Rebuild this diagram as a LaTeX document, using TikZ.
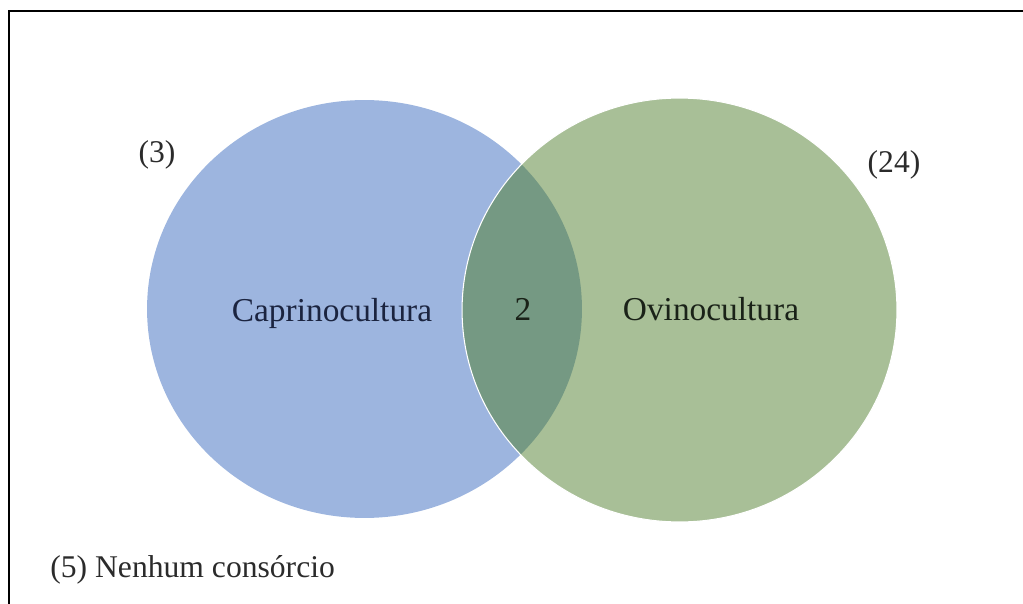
\documentclass[tikz,border=0pt]{standalone}
\usepackage{fontspec}
\setmainfont{Liberation Serif}
\usepackage{tikz}
\definecolor{caprblue}{HTML}{9DB5DF}
\definecolor{ovigreen}{HTML}{A8BF97}
\definecolor{lensgreen}{HTML}{759983}
\definecolor{caprtext}{HTML}{1B2440}
\definecolor{ovitext}{HTML}{1A2218}
\definecolor{counttext}{HTML}{2B2B2B}
\tikzset{
  vennlabel/.style={inner sep=0pt, anchor=base, font=\fontsize{19}{23}\selectfont},
  countlabel/.style={inner sep=0pt, anchor=base, text=counttext, font=\fontsize{18}{22}\selectfont}
}
\begin{document}
\begin{tikzpicture}[x=0.02cm,y=-0.02cm]
    \useasboundingbox (0,0) rectangle (1023,604);
    \coordinate (caprc) at (364.5,309);
    \coordinate (ovic) at (679.5,310);

    \draw[line width=1.6pt,black] (9,604) -- (9,11) -- (1023,11);

    \fill[caprblue] (caprc) ellipse [x radius=4.35cm, y radius=4.18cm];
    \fill[ovigreen] (ovic) ellipse [x radius=4.35cm, y radius=4.24cm];
    \begin{scope}
      \clip (caprc) ellipse [x radius=4.35cm, y radius=4.18cm];
      \fill[lensgreen] (ovic) ellipse [x radius=4.35cm, y radius=4.24cm];
    \end{scope}
    \draw[white,line width=0.6pt] (ovic) ellipse [x radius=4.35cm, y radius=4.24cm];

    \node[vennlabel,text=caprtext] (capr) at (332,321) {Caprinocultura};
    \node[vennlabel,text=ovitext] (both) at (523,320) {2};
    \node[vennlabel,text=ovitext] (ovi) at (711,320) {Ovinocultura};
    \node[countlabel] (caprcount) at (157,163) {(3)};
    \node[countlabel] (ovicount) at (894,173) {(24)};
    \node[countlabel,anchor=base west] (nonecount) at (50,577) {(5) Nenhum consórcio};
  \end{tikzpicture}
\end{document}
